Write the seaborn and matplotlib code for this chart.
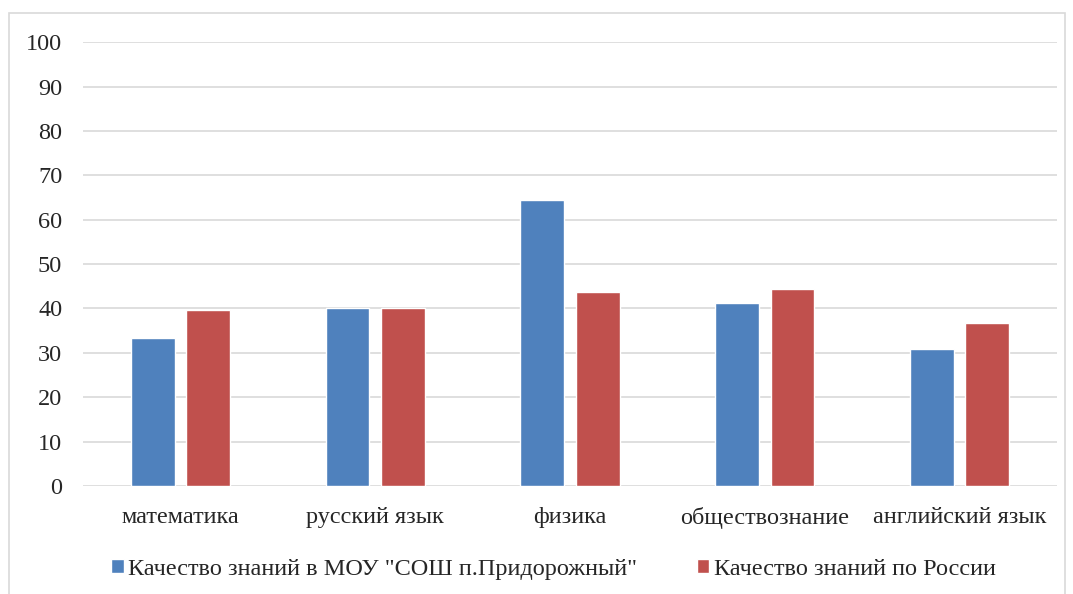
import pandas as pd
import seaborn as sns
import matplotlib.pyplot as plt
from matplotlib.patches import Rectangle

# Données du graphique
predmety = ["математика", "русский язык", "физика", "обществознание", "английский язык"]
shkola = [33.4, 40.0, 64.4, 41.3, 30.9]
rossiya = [39.6, 40.0, 43.8, 44.3, 36.8]
serii = ['Качество знаний в МОУ "СОШ п.Придорожный"', "Качество знаний по России"]

df = pd.DataFrame({
    "predmet": predmety * 2,
    "value": shkola + rossiya,
    "seria": [serii[0]] * 5 + [serii[1]] * 5,
})

sns.set_style("white")
plt.rcParams['font.family'] = ['Liberation Serif', 'DejaVu Serif']

fig = plt.figure(figsize=(10.73, 5.94), dpi=100)
ax = fig.add_axes([0.0774, 0.1818, 0.9076, 0.7472])

sns.barplot(data=df, x="predmet", y="value", hue="seria",
            palette=["#4F81BD", "#C0504D"], width=0.57, gap=0.21,
            saturation=1, ax=ax, legend=True)

ax.set_ylim(0, 100)
ax.set_yticks(range(0, 101, 10))
ax.set_xlim(-0.5, 4.5)
ax.yaxis.grid(True, color="#D9D9D9", linewidth=1.2)
ax.set_axisbelow(True)
for s in ax.spines.values():
    s.set_visible(False)
ax.tick_params(axis="y", length=0, pad=15, labelsize=17.5)
ax.tick_params(axis="x", length=0, pad=15, labelsize=17.5)
ax.set_xlabel("")
ax.set_ylabel("")

# Légende en bas
h, l = ax.get_legend_handles_labels()
ax.get_legend().remove()
fig.legend(h, l, loc="center", bbox_to_anchor=(0.516, 0.042), ncol=2,
           frameon=False, fontsize=17.5, handlelength=0.5, handleheight=0.5,
           handletextpad=0.2, columnspacing=2.45)

# Cadre extérieur
fig.patches.append(Rectangle((9 / 1073, -0.05), 1056 / 1073, 1.05 - 13 / 594,
                             transform=fig.transFigure, fill=False,
                             edgecolor="#D9D9D9", linewidth=1.2))

fig.savefig("out.png", dpi=100)
